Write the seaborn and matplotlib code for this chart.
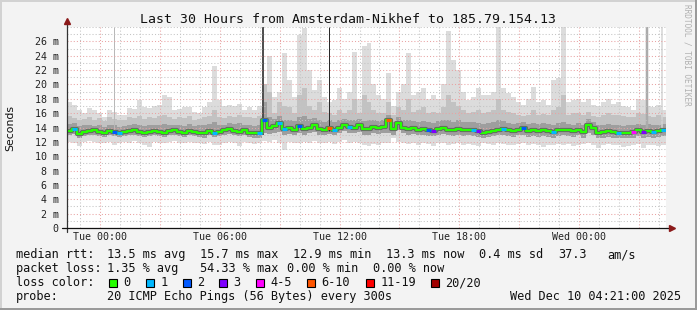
import numpy as np
import pandas as pd
import matplotlib
matplotlib.use("Agg")
import matplotlib.pyplot as plt
import matplotlib.dates as mdates
from matplotlib.patches import Rectangle
from matplotlib.lines import Line2D
from matplotlib.ticker import MultipleLocator, FuncFormatter
import seaborn as sns

# ---------------- data ----------------
start = pd.Timestamp("2025-12-08 22:21")
end = pd.Timestamp("2025-12-10 04:21")
step_minutes = 15

median = [13.45, 13.8, 13.1, 13.4, 13.5, 13.6, 13.4, 13.3, 13.45, 13.4,
          13.3, 13.4, 13.5, 13.7, 13.4, 13.3, 13.4, 13.5, 13.4, 13.3,
          13.5, 13.6, 13.4, 13.3, 13.5, 13.4, 13.3, 13.2, 13.5, 13.3,
          13.4, 13.6, 13.8, 13.5, 13.4, 13.6, 13.3, 13.2, 13.2, 15.0,
          13.9, 14.2, 14.6, 13.8, 13.9, 13.7, 14.2, 13.8, 14.0, 14.3,
          13.8, 13.6, 13.9, 13.7, 14.0, 14.4, 14.1, 14.0, 14.3, 13.8,
          13.8, 14.1, 13.9, 14.1, 15.0, 13.8, 14.6, 14.0, 13.8, 13.9,
          13.7, 13.8, 13.6, 13.5, 13.8, 13.9, 13.7, 13.6, 13.8, 13.6,
          13.7, 13.6, 13.5, 13.3, 13.4, 13.5, 13.6, 13.8, 13.6, 13.5,
          13.7, 13.9, 13.5, 13.6, 13.5, 13.6, 13.5, 13.4, 13.6, 13.7,
          13.6, 13.5, 13.7, 13.4, 14.4, 13.9, 13.2, 13.4, 13.5, 13.4,
          13.3, 13.2, 13.3, 13.4, 13.6, 13.4, 13.5, 13.4, 13.5, 13.6]

loss_class = [0, 1, 0, 0, 0, 0, 0, 0, 0, 2,
              1, 0, 0, 0, 0, 0, 0, 0, 0, 0,
              0, 0, 0, 0, 0, 0, 0, 0, 0, 1,
              0, 0, 0, 0, 0, 0, 0, 0, 1, 2,
              0, 0, 1, 1, 0, 0, 2, 0, 0, 0,
              0, 0, 5, 1, 0, 0, 1, 0, 0, 0,
              0, 0, 0, 0, 5, 0, 0, 0, 0, 0,
              0, 0, 2, 3, 0, 0, 0, 0, 0, 0,
              0, 1, 3, 0, 0, 0, 0, 1, 0, 0,
              0, 2, 0, 0, 0, 0, 0, 1, 0, 0,
              0, 0, 0, 0, 0, 0, 0, 0, 0, 0,
              1, 0, 0, 4, 0, 3, 0, 1, 0, 1]

ping_max = [17.6, 17.2, 16.5, 16.0, 16.7, 16.4, 16.0, 15.5, 16.5, 16.2,
            15.8, 15.7, 16.7, 16.6, 17.9, 16.8, 16.7, 17.0, 17.2, 18.5,
            18.3, 16.5, 16.6, 16.9, 16.8, 16.2, 16.0, 16.9, 17.5, 22.5,
            17.9, 17.0, 17.2, 17.0, 17.3, 16.5, 16.8, 16.5, 17.0, 17.6,
            23.9, 18.3, 19.0, 24.4, 20.6, 18.3, 26.9, 27.9, 22.0, 19.2,
            20.6, 18.3, 17.5, 17.9, 19.5, 18.0, 19.0, 24.5, 18.0, 25.3,
            25.8, 20.0, 18.5, 18.0, 21.6, 17.0, 19.0, 20.0, 24.4, 18.5,
            19.0, 19.5, 18.0, 18.5, 18.0, 20.0, 27.4, 23.4, 22.0, 19.0,
            17.8, 18.2, 19.5, 18.5, 18.5, 19.0, 28.0, 19.5, 18.8, 18.3,
            17.5, 17.2, 18.0, 19.7, 17.5, 17.8, 17.2, 20.6, 20.9, 28.0,
            17.5, 17.8, 18.0, 17.5, 18.0, 17.2, 17.0, 17.5, 18.0, 17.3,
            17.5, 17.0, 16.8, 16.5, 18.0, 17.8, 17.0, 16.8, 17.2, 16.5]

ping_upper = [15.6, 15.3, 15.0, 15.2, 15.5, 15.1, 15.3, 14.9, 15.4, 15.2,
              15.0, 15.1, 15.5, 15.3, 15.6, 15.2, 15.4, 15.3, 15.6, 15.8,
              15.5, 15.2, 15.4, 15.3, 15.6, 15.1, 15.2, 15.4, 15.6, 16.5,
              15.4, 15.3, 15.6, 15.5, 15.8, 15.4, 15.5, 15.3, 15.6, 20.0,
              19.0, 16.0, 17.5, 17.0, 16.8, 16.0, 18.5, 19.5, 17.0, 16.5,
              17.5, 16.2, 16.0, 15.8, 16.5, 16.0, 16.5, 18.0, 16.0, 18.5,
              17.5, 16.5, 16.0, 16.0, 17.5, 15.8, 16.8, 16.5, 18.0, 16.2,
              16.5, 16.8, 16.0, 16.2, 16.0, 16.8, 18.5, 17.5, 17.0, 16.5,
              16.0, 16.2, 16.5, 16.0, 16.2, 16.5, 18.0, 16.5, 16.2, 16.0,
              15.8, 15.6, 15.8, 16.5, 15.8, 15.9, 15.7, 16.5, 16.8, 18.5,
              15.8, 16.0, 16.0, 15.7, 16.2, 15.6, 15.5, 15.8, 16.0, 15.7,
              15.8, 15.6, 15.5, 15.4, 16.0, 15.9, 15.6, 15.5, 15.7, 15.4]

ping_q_hi = [14.5, 14.6, 14.2, 14.3, 14.4, 14.2, 14.3, 14.1, 14.4, 14.3,
             14.1, 14.2, 14.4, 14.5, 14.3, 14.2, 14.3, 14.4, 14.3, 14.5,
             14.4, 14.3, 14.4, 14.2, 14.5, 14.2, 14.3, 14.3, 14.5, 14.8,
             14.4, 14.3, 14.6, 14.5, 14.6, 14.4, 14.3, 14.2, 14.4, 17.5,
             15.5, 15.2, 15.6, 15.0, 15.1, 14.9, 15.4, 15.6, 15.2, 15.3,
             15.0, 14.8, 15.0, 14.7, 15.0, 15.2, 15.0, 15.1, 15.2, 14.9,
             15.0, 15.1, 14.9, 15.0, 15.8, 14.8, 15.4, 15.0, 15.1, 14.9,
             14.8, 14.9, 14.7, 14.6, 14.9, 15.0, 15.0, 14.8, 15.0, 14.7,
             14.7, 14.8, 14.6, 14.5, 14.6, 14.7, 15.0, 14.9, 14.6, 14.5,
             14.6, 14.8, 14.5, 14.6, 14.5, 14.6, 14.5, 14.4, 14.6, 14.8,
             14.5, 14.4, 14.6, 14.4, 15.2, 14.8, 14.3, 14.4, 14.5, 14.3,
             14.3, 14.2, 14.3, 14.4, 14.5, 14.4, 14.5, 14.3, 14.4, 14.5]

ping_q_lo = [12.9, 13.1, 12.6, 12.8, 12.9, 13.0, 12.8, 12.7, 12.9, 12.8,
             12.7, 12.8, 12.9, 13.0, 12.8, 12.7, 12.8, 12.9, 12.8, 12.7,
             12.9, 13.0, 12.8, 12.7, 12.9, 12.8, 12.7, 12.6, 12.9, 12.7,
             12.8, 13.0, 13.1, 12.9, 12.8, 13.0, 12.7, 12.6, 12.6, 13.2,
             13.1, 13.3, 13.4, 13.0, 13.1, 12.9, 13.2, 13.0, 13.2, 13.4,
             13.0, 12.9, 13.1, 12.9, 13.2, 13.5, 13.2, 13.2, 13.4, 13.0,
             13.0, 13.2, 13.1, 13.2, 13.3, 13.0, 13.6, 13.2, 13.0, 13.1,
             12.9, 13.0, 12.8, 12.8, 13.0, 13.1, 12.9, 12.8, 13.0, 12.8,
             12.9, 12.8, 12.7, 12.6, 12.7, 12.8, 12.9, 13.0, 12.8, 12.7,
             12.9, 13.0, 12.7, 12.8, 12.7, 12.8, 12.7, 12.6, 12.8, 12.9,
             12.8, 12.7, 12.9, 12.6, 13.3, 13.0, 12.5, 12.6, 12.7, 12.6,
             12.5, 12.5, 12.6, 12.6, 12.8, 12.6, 12.7, 12.6, 12.7, 12.8]

ping_min = [12.0, 11.8, 11.4, 12.0, 12.1, 12.0, 11.9, 11.8, 12.0, 11.5,
            11.8, 12.0, 11.9, 12.1, 11.9, 11.6, 11.3, 12.0, 11.9, 11.8,
            12.0, 12.1, 11.9, 11.8, 12.0, 11.9, 11.8, 11.7, 12.0, 11.6,
            11.5, 11.9, 12.0, 11.8, 11.4, 12.0, 11.8, 11.7, 11.8, 12.1,
            12.0, 12.2, 11.8, 10.9, 12.0, 11.8, 11.9, 12.0, 11.9, 12.1,
            11.9, 11.8, 12.0, 11.7, 12.0, 12.2, 11.9, 12.0, 11.8, 11.6,
            11.4, 11.7, 11.5, 11.9, 11.8, 12.5, 12.0, 11.9, 11.7, 11.9,
            11.6, 11.8, 11.7, 11.4, 11.9, 11.8, 11.6, 11.7, 11.9, 11.5,
            11.7, 11.6, 11.4, 11.8, 11.7, 11.6, 11.8, 11.7, 11.6, 11.5,
            11.7, 11.8, 11.6, 11.7, 11.5, 11.3, 11.6, 11.5, 11.7, 11.6,
            11.7, 11.4, 11.6, 11.7, 11.8, 11.5, 11.2, 11.6, 11.7, 11.5,
            11.6, 11.3, 11.4, 11.6, 11.7, 11.2, 11.5, 11.6, 11.4, 11.6]

# single 5-minute outliers that reach the top of the graph
spike_times = ["2025-12-09 00:42", "2025-12-09 08:09", "2025-12-09 11:27",
               "2025-12-10 03:24", "2025-12-10 04:09"]
spike_top = [28.0, 28.0, 28.0, 28.0, 28.0]
spike_bottom = [13.0, 13.0, 13.5, 13.0, 13.5]
spike_colors = ["#b8b8b8", "#505050", "#2a2a2a", "#ababab", "#d4d4d4"]
spike_widths = [1.0, 2.0, 1.0, 2.5, 1.5]

loss_labels = ["0", "1", "2", "3", "4-5", "6-10", "11-19", "20/20"]
loss_colors = ["#26ff00", "#00b8ff", "#0059ff", "#7e00ff", "#ff00fe",
               "#ff5500", "#ff0000", "#a10000"]

y_ticks = list(range(0, 28, 2))

# ---------------- figure ----------------
sns.set_style("white")
mono = "DejaVu Sans Mono"
plt.rcParams["font.family"] = ["DejaVu Sans Mono", "DejaVu Sans"]

W, H = 697, 310
fig = plt.figure(figsize=(W / 100, H / 100), dpi=100, facecolor="#f3f3f3")


def fx(px):
    return px / W


def fy(py):
    return 1 - py / H


ax_l, ax_r, ax_t, ax_b = 67, 666, 27, 228
ax = fig.add_axes([fx(ax_l), fy(ax_b), (ax_r - ax_l) / W, (ax_b - ax_t) / H])
ax.set_facecolor("white")

n = len(median)
edges = pd.date_range(start, periods=n + 1, freq=f"{step_minutes}min")
xe = mdates.date2num(edges.to_pydatetime())


def ext(a):
    return list(a) + [a[-1]]


# smoke layers
ax.fill_between(xe, ext(ping_min), ext(ping_max), step="post",
                color="#dcdcdc", lw=0, zorder=1)
ax.fill_between(xe, ext(ping_q_lo), ext(ping_upper), step="post",
                color="#c2c2c2", lw=0, zorder=1.1)
ax.fill_between(xe, ext(ping_q_lo), ext(ping_q_hi), step="post",
                color="#9e9e9e", lw=0, zorder=1.2)

sx = mdates.date2num(pd.to_datetime(spike_times).to_pydatetime())
for t, b, tp, c, w in zip(sx, spike_bottom, spike_top, spike_colors, spike_widths):
    ax.vlines(t, b, tp, color=c, lw=w * 0.72, zorder=1.3)

# dark core around the median and the median line itself
sns.lineplot(x=xe, y=ext(median), drawstyle="steps-post", color="#676767",
             lw=3.0, ax=ax, zorder=3)
sns.lineplot(x=xe, y=ext(median), drawstyle="steps-post", color=loss_colors[0],
             lw=1.6, ax=ax, zorder=4)
for i, (m, lc) in enumerate(zip(median, loss_class)):
    if lc > 0:
        ax.hlines(m, xe[i], xe[i + 1], color=loss_colors[lc], lw=2.2, zorder=5)

# axes limits, ticks, grid
ax.set_xlim(mdates.date2num(start.to_pydatetime()), mdates.date2num(end.to_pydatetime()))
ax.set_ylim(0, 28)
ax.xaxis.set_major_locator(mdates.HourLocator(byhour=range(0, 24, 3)))
ax.xaxis.set_minor_locator(mdates.HourLocator())


def xfmt(v, pos):
    d = mdates.num2date(v)
    return d.strftime("%a %H:%M") if d.hour % 6 == 0 else ""


ax.xaxis.set_major_formatter(FuncFormatter(xfmt))
ax.yaxis.set_major_locator(plt.FixedLocator(y_ticks))
ax.yaxis.set_minor_locator(MultipleLocator(1))
ax.yaxis.set_major_formatter(FuncFormatter(lambda v, p: "0" if v == 0 else f"{int(v)} m"))

ax.set_axisbelow(False)
ax.grid(which="major", color="#e9a3a3", ls=(0, (1, 2)), lw=0.75, zorder=2.5)
ax.grid(which="minor", color="#c4c4c4", ls=(0, (1, 2)), lw=0.75, zorder=2.4)
ax.tick_params(axis="both", which="major", labelsize=7.2, colors="#222222",
               length=3, width=0.7, pad=2)
ax.tick_params(axis="both", which="minor", length=0)
ax.tick_params(axis="y", which="major", length=3, pad=3)
ax.tick_params(axis="x", which="major", length=2, pad=1)
for lab in ax.get_xticklabels() + ax.get_yticklabels():
    lab.set_family(mono)

for s in ax.spines.values():
    s.set_visible(False)

ax.set_xlabel("")
ax.set_ylabel("")

# axis lines with arrows (rrdtool style)
ax_w, ax_h = ax_r - ax_l, ax_b - ax_t
ax.add_line(Line2D([0, 0], [-4 / ax_h, (ax_b - 21) / ax_h], transform=ax.transAxes,
                   color="#333333", lw=0.9, clip_on=False, zorder=6))
ax.add_line(Line2D([-5 / ax_w, (671 - ax_l) / ax_w], [0, 0], transform=ax.transAxes,
                   color="#111111", lw=0.9, clip_on=False, zorder=6))
ax.plot([0], [(ax_b - 21) / ax_h], marker="^", ms=5, color="#8b1a1a",
        transform=ax.transAxes, clip_on=False, zorder=7)
ax.plot([(672 - ax_l) / ax_w], [0], marker=">", ms=5, color="#8b1a1a",
        transform=ax.transAxes, clip_on=False, zorder=7)

# title / axis label / watermark
fig.text(fx(348), fy(23.3), "Last 30 Hours from Amsterdam-Nikhef to 185.79.154.13",
         ha="center", va="baseline", fontsize=9.55, family=mono, color="#111111")
fig.text(fx(10), fy(128), "Seconds", rotation=90, ha="center", va="center",
         fontsize=7.8, family="DejaVu Sans", color="#111111")
fig.text(fx(687), fy(4), "RRDTOOL / TOBI OETIKER", rotation=270, ha="center",
         va="top", fontsize=5.6, family=mono, color="#b0b0b0")

# legend block
fs = 8.55
rows_y = [258.3, 272.3, 286.0, 300.0]
row1 = [(16, "median rtt:"), (107, "13.5 ms avg"), (200, "15.7 ms max"),
        (293, "12.9 ms min"), (386, "13.3 ms now"), (479, "0.4 ms sd"),
        (558, "37.3"), (607, "am/s")]
row2 = [(16, "packet loss:"), (107, "1.35 % avg"), (200, "54.33 % max"),
        (287, "0.00 % min"), (373, "0.00 % now")]
for x, s in row1:
    fig.text(fx(x), fy(rows_y[0]), s, ha="left", va="baseline", fontsize=fs, family=mono, color="#111111")
for x, s in row2:
    fig.text(fx(x), fy(rows_y[1]), s, ha="left", va="baseline", fontsize=fs, family=mono, color="#111111")

fig.text(fx(16), fy(rows_y[2]), "loss color:", ha="left", va="baseline", fontsize=fs, family=mono, color="#111111")
sq_x = [109, 146, 183, 219, 256, 307, 366, 431]
for sx_, lab, col in zip(sq_x, loss_labels, loss_colors):
    fig.add_artist(Rectangle((fx(sx_), fy(286.5)), 7.5 / W, 8 / H, transform=fig.transFigure,
                             facecolor=col, edgecolor="#000000", lw=0.8))
    fig.text(fx(sx_ + 14.5), fy(rows_y[2]), lab, ha="left", va="baseline", fontsize=fs,
             family=mono, color="#111111")

fig.text(fx(16), fy(rows_y[3]), "probe:", ha="left", va="baseline", fontsize=fs, family=mono, color="#111111")
fig.text(fx(107), fy(rows_y[3]), "20 ICMP Echo Pings (56 Bytes) every 300s", ha="left",
         va="baseline", fontsize=fs, family=mono, color="#111111")
fig.text(fx(681), fy(rows_y[3]), "Wed Dec 10 04:21:00 2025", ha="right", va="baseline",
         fontsize=fs, family=mono, color="#111111")

# image frame
fig.add_artist(Rectangle((0, 0), fx(2), 1, transform=fig.transFigure, facecolor="#d2d2d2", lw=0))
fig.add_artist(Rectangle((0, 1 - 2 / H), 1, 2 / H, transform=fig.transFigure, facecolor="#d2d2d2", lw=0))
fig.add_artist(Rectangle((1 - 2.5 / W, 0), 2.5 / W, 1, transform=fig.transFigure, facecolor="#9a9a9a", lw=0))
fig.add_artist(Rectangle((0, 0), 1, 2.5 / H, transform=fig.transFigure, facecolor="#9a9a9a", lw=0))

fig.savefig("out.png", dpi=100, facecolor=fig.get_facecolor())
